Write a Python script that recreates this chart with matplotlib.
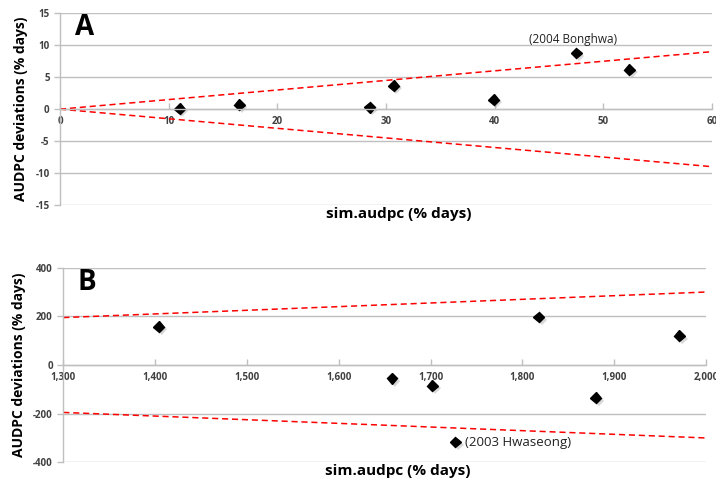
import matplotlib.pyplot as plt
import matplotlib.patheffects as pe
import numpy as np

plt.rcParams['font.family'] = ['Open Sans', 'DejaVu Sans']
plt.rcParams['axes.unicode_minus'] = False

# panel A values
a_sim = [11.0, 16.5, 28.5, 30.7, 39.9, 47.5, 52.4]
a_dev = [0.1, 0.7, 0.3, 3.7, 1.5, 8.8, 6.2]
a_xticks = [0, 10, 20, 30, 40, 50, 60]
a_yticks = [-15, -10, -5, 0, 5, 10, 15]

# panel B values
b_sim = [1404, 1658, 1702, 1818, 1880, 1971, 1727]
b_dev = [158, -55, -85, 197, -135, 120, -317]
b_xticks = [1300, 1400, 1500, 1600, 1700, 1800, 1900, 2000]
b_yticks = [-400, -200, 0, 200, 400]

band = 0.15  # +/- 15 % limit lines

tick_col = '#404040'
grid_col = '#bfbfbf'
shadow = [pe.SimplePatchShadow(offset=(2, -2), shadow_rgbFace='#909090', alpha=0.35), pe.Normal()]


def style_axis(ax, xticks, yticks, xlabels):
    ax.set_xlim(xticks[0], xticks[-1])
    ax.set_ylim(yticks[0], yticks[-1])
    ax.set_xticks(xticks)
    ax.set_xticklabels(xlabels)
    ax.set_yticks(yticks)
    ax.yaxis.grid(True, color=grid_col, linewidth=1)
    ax.set_axisbelow(True)
    for s in ['top', 'right']:
        ax.spines[s].set_visible(False)
    ax.spines['bottom'].set_position(('data', 0))
    ax.spines['bottom'].set_color(grid_col)
    ax.spines['left'].set_color(grid_col)
    ax.spines['bottom'].set_linewidth(1)
    ax.spines['left'].set_linewidth(1)
    ax.tick_params(axis='both', colors=grid_col, labelcolor=tick_col, labelsize=7, length=4, width=1)
    ax.tick_params(axis='x', direction='in', pad=5)
    for lab in ax.get_xticklabels() + ax.get_yticklabels():
        lab.set_fontweight('bold')
    ax.set_ylabel('AUDPC deviations (% days)', fontsize=10, fontweight='bold')


fig = plt.figure(figsize=(7.16, 4.79), dpi=100)

# ---- A ----
ax1 = fig.add_axes([0.0838, 0.572, 0.9106, 0.4002])
style_axis(ax1, a_xticks, a_yticks, [str(t) for t in a_xticks])
xs = np.array([0, 60])
ax1.plot(xs, band * xs, color='red', linestyle=(0, (4, 2.5)), linewidth=1.1)
ax1.plot(xs, -band * xs, color='red', linestyle=(0, (4, 2.5)), linewidth=1.1)
ax1.plot(a_sim, a_dev, linestyle='none', marker='D', markersize=5.5, color='black', path_effects=shadow)
ax1.text(47.2, 10.9, '(2004 Bonghwa)', fontsize=8.5, ha='center', va='center', color='#222222')
ax1.text(1.4, 12.8, 'A', fontsize=20, fontweight='bold', ha='left', va='center')
ax1.set_xlabel('sim.audpc (% days)', fontsize=11, fontweight='bold')
ax1.xaxis.set_label_coords(0.52, -0.012)
ax1.yaxis.set_label_coords(-0.049, 0.5)

# ---- B ----
ax2 = fig.add_axes([0.0884, 0.0349, 0.8976, 0.4062])
style_axis(ax2, b_xticks, b_yticks, ['{:,}'.format(t) for t in b_xticks])
xs = np.array([1300, 2000])
ax2.plot(xs, band * xs, color='red', linestyle=(0, (4, 2.5)), linewidth=1.1)
ax2.plot(xs, -band * xs, color='red', linestyle=(0, (4, 2.5)), linewidth=1.1)
ax2.plot(b_sim, b_dev, linestyle='none', marker='D', markersize=5.5, color='black', path_effects=shadow)
ax2.text(1737, -317, '(2003 Hwaseong)', fontsize=9.5, ha='left', va='center', color='#222222')
ax2.text(1315, 339, 'B', fontsize=20, fontweight='bold', ha='left', va='center')
ax2.set_xlabel('sim.audpc (% days)', fontsize=11, fontweight='bold')
ax2.xaxis.set_label_coords(0.52, -0.01)
ax2.yaxis.set_label_coords(-0.058, 0.5)

fig.savefig('out.png', dpi=100)
